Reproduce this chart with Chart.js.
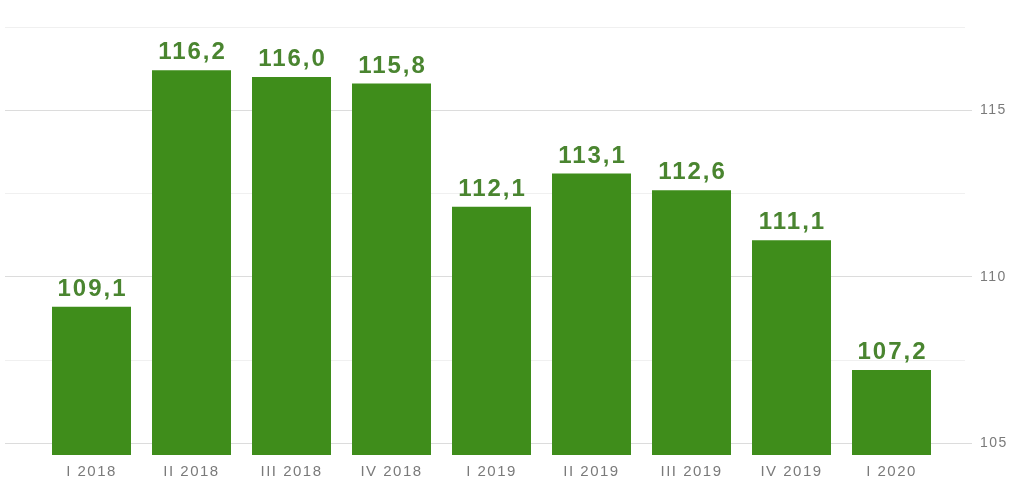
<!DOCTYPE html>
<html>
<head>
<meta charset="utf-8">
<script src="https://cdn.jsdelivr.net/npm/chart.js@4/dist/chart.umd.min.js"></script>
<style>
  html, body { margin: 0; padding: 0; background: #fff; }
  #wrap { width: 1015px; height: 482px; }
</style>
</head>
<body>
<div id="wrap"><canvas id="grafico"></canvas></div>
<script>
// Datos (trimestres 2018–2020)
const trimestres = ['I 2018', 'II 2018', 'III 2018', 'IV 2018', 'I 2019', 'II 2019', 'III 2019', 'IV 2019', 'I 2020'];
const valores = [109.1, 116.2, 116.0, 115.8, 112.1, 113.1, 112.6, 111.1, 107.2];
const ticksY = [105, 110, 115];

const COLOR_BARRA = '#3f8d1b';
const COLOR_ETIQUETA = '#4a8530';
const COLOR_TEXTO = '#7a7a7a';

// Líneas cada 2,5 — las de 105/110/115 más marcadas, las intermedias apenas
function esMultiplo(v, paso) {
    let r = v / paso;
    return Math.abs(r - Math.round(r)) < 1e-6;
}
function esTickPrincipal(v) {
    return ticksY.includes(Math.round(v * 10) / 10);
}

// Dibuja el valor arriba de cada barra, con coma decimal
const etiquetasBarras = {
    id: 'etiquetasBarras',
    afterDatasetsDraw(chart) {
        let ctx = chart.ctx;
        let meta = chart.getDatasetMeta(0);
        ctx.save();
        ctx.font = 'bold 24px "Liberation Sans", Arial, sans-serif';
        ctx.letterSpacing = '2px';
        ctx.fillStyle = COLOR_ETIQUETA;
        ctx.textAlign = 'center';
        ctx.textBaseline = 'alphabetic';
        meta.data.forEach((barra, i) => {
            let txt = valores[i].toFixed(1).replace('.', ',');
            ctx.fillText(txt, barra.x + 1, barra.y - 11);
        });
        ctx.restore();
    }
};

// El texto del original se ve más ancho; un poco de espaciado en los ejes
const espaciadoEjes = {
    id: 'espaciadoEjes',
    beforeDraw(chart) { chart.ctx.letterSpacing = '1.5px'; },
    afterDraw(chart) { chart.ctx.letterSpacing = '0px'; }
};

new Chart(document.getElementById('grafico').getContext('2d'), {
    type: 'bar',
    data: {
        datasets: [{
            data: valores.map((v, i) => ({ x: i, y: v })),
            backgroundColor: COLOR_BARRA,
            borderWidth: 0,
            barPercentage: 0.79,
            categoryPercentage: 1
        }]
    },
    options: {
        responsive: true,
        maintainAspectRatio: false,
        animation: false,
        layout: { padding: { top: 27, left: 5, right: 0, bottom: 0 } },
        plugins: { legend: { display: false }, tooltip: { enabled: false } },
        scales: {
            x: {
                type: 'linear',
                offset: false,
                min: -0.865,
                max: 8.735,
                grid: { display: false, drawTicks: false },
                border: { display: false },
                afterFit: (s) => { s.height = 27; },
                ticks: {
                    stepSize: 1,
                    includeBounds: false,
                    autoSkip: false,
                    maxRotation: 0,
                    padding: 8,
                    color: COLOR_TEXTO,
                    font: { family: '"Liberation Sans", Arial, sans-serif', size: 15 },
                    callback: (v) => (Number.isInteger(v) && trimestres[v]) ? trimestres[v] : ''
                }
            },
            y: {
                position: 'right',
                min: 104.65,
                max: 117.5,
                afterFit: (s) => { s.width = 50; },
                border: { display: false },
                grid: {
                    drawTicks: true,
                    tickLength: 7,
                    lineWidth: 1,
                    color: (c) => {
                        let v = c.tick.value;
                        if (!esMultiplo(v, 2.5)) return 'rgba(0,0,0,0)';
                        return esTickPrincipal(v) ? '#dcdcdc' : '#f0f0f0';
                    },
                    tickColor: (c) => esTickPrincipal(c.tick.value) ? '#dcdcdc' : 'rgba(0,0,0,0)'
                },
                ticks: {
                    stepSize: 2.5,
                    includeBounds: false,
                    padding: 8,
                    color: COLOR_TEXTO,
                    font: { family: '"Liberation Sans", Arial, sans-serif', size: 14 },
                    callback: (v) => esTickPrincipal(v) ? String(Math.round(v)) : ''
                }
            }
        }
    },
    plugins: [espaciadoEjes, etiquetasBarras]
});
</script>
</body>
</html>
